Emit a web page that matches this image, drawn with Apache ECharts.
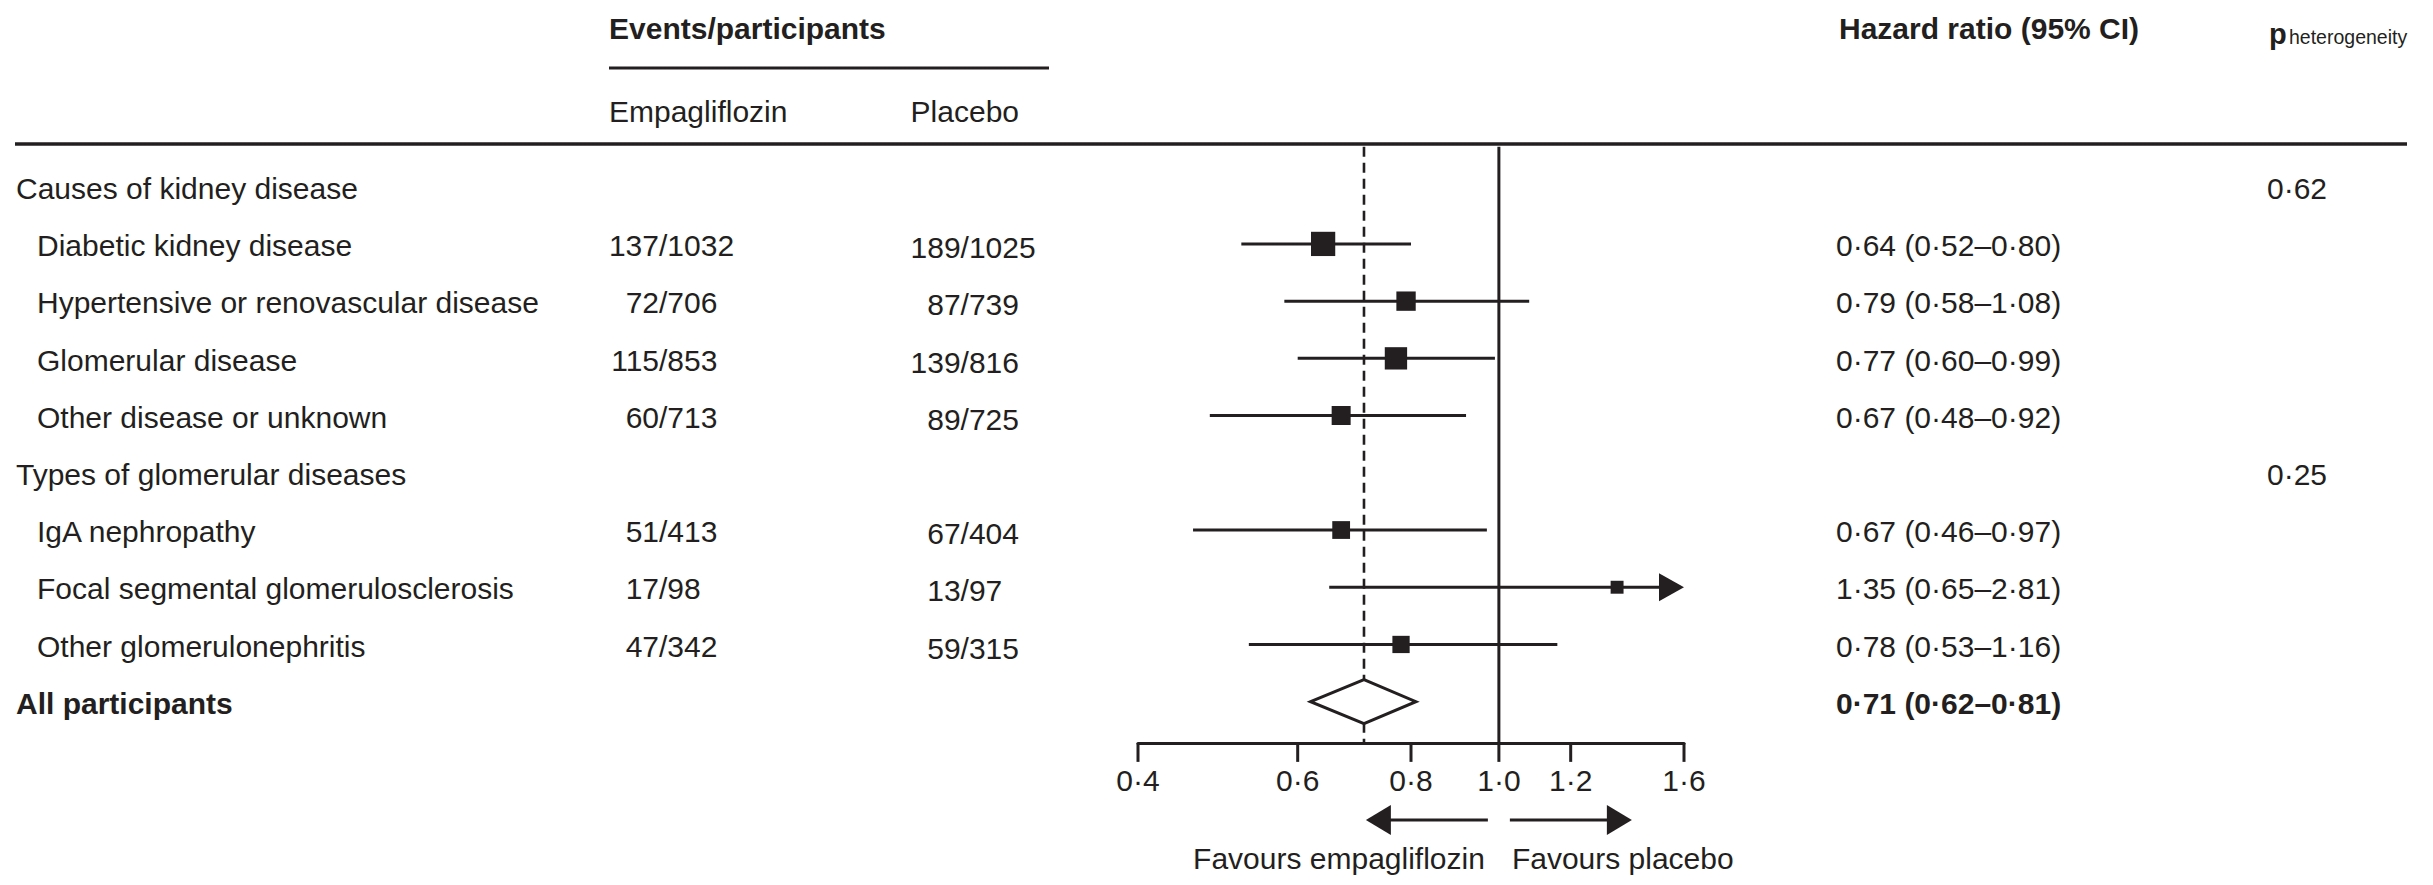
<!DOCTYPE html>
<html>
<head>
<meta charset="utf-8">
<script src="https://cdn.jsdelivr.net/npm/echarts@6/dist/echarts.min.js"></script>
<style>html,body{margin:0;padding:0;background:#fff}#c{width:2433px;height:885px}</style>
</head>
<body>
<div id="c"></div>
<script>
// ---------------- data ----------------
const rowLabels = [
  'Causes of kidney disease',
  'Diabetic kidney disease',
  'Hypertensive or renovascular disease',
  'Glomerular disease',
  'Other disease or unknown',
  'Types of glomerular diseases',
  'IgA nephropathy',
  'Focal segmental glomerulosclerosis',
  'Other glomerulonephritis',
  'All participants'
];
const rowKind = ['group','item','item','item','item','group','item','item','item','overall'];
const empaEvents = [null,137,72,115,60,null,51,17,47,null];
const empaTotal  = [null,1032,706,853,713,null,413,98,342,null];
const placEvents = [null,189,87,139,89,null,67,13,59,null];
const placTotal  = [null,1025,739,816,725,null,404,97,315,null];
const hr     = [null,0.64,0.79,0.77,0.67,null,0.67,1.35,0.78,0.71];
const hrLow  = [null,0.52,0.58,0.60,0.48,null,0.46,0.65,0.53,0.62];
const hrHigh = [null,0.80,1.08,0.99,0.92,null,0.97,2.81,1.16,0.81];
const pHet   = ['0·62',null,null,null,null,'0·25',null,null,null,null];
const xTicks = [0.4,0.6,0.8,1.0,1.2,1.6];

// ---------------- style ----------------
const FONT = '"Liberation Sans", Arial, Helvetica, sans-serif';
const INK = '#231f20';
const FS = 30;
const fmt2 = v => v.toFixed(2).replace('.', '\u00b7');
const fmt1 = v => v.toFixed(1).replace('.', '\u00b7');
const X_MIN = xTicks[0], X_MAX = xTicks[xTicks.length - 1];
const ROW_MIN = -0.7, ROW_MAX = 9.72;
const ROW_PITCH = 57.22, ROW0_Y = 186.7;
const OVERALL = rowKind.indexOf('overall');

function txt(text, x, y, opt) {
  opt = opt || {};
  return {
    type: 'text', silent: true,
    style: {
      text: text, x: x, y: y, fill: INK, fontFamily: FONT,
      fontSize: opt.size || FS, fontWeight: opt.bold ? 'bold' : 'normal',
      align: opt.align || 'left', verticalAlign: 'middle'
    }
  };
}
function seg(x1, y1, x2, y2, w, dash) {
  return { type: 'line', silent: true,
    shape: { x1: x1, y1: y1, x2: x2, y2: y2 },
    style: { stroke: INK, lineWidth: w, lineDash: dash || null, lineCap: 'butt' } };
}

const chart = echarts.init(document.getElementById('c'), null, { renderer: 'svg', width: 2433, height: 885 });

const itemRows = rowKind.map((k, i) => i).filter(i => rowKind[i] === 'item');
const ciData = itemRows.map(i => [hr[i], i, hrLow[i], hrHigh[i], empaEvents[i] + placEvents[i]]);

const option = {
  backgroundColor: '#fff',
  animation: false,
  grid: {
    left: 1138, width: 546,
    top: ROW0_Y + ROW_MIN * ROW_PITCH,
    height: (ROW_MAX - ROW_MIN) * ROW_PITCH,
    containLabel: false, outerBoundsMode: 'none'
  },
  xAxis: {
    type: 'log', logBase: 10, min: X_MIN, max: X_MAX, position: 'bottom',
    axisLine: { show: true, onZero: false, lineStyle: { color: INK, width: 3 } },
    axisTick: { show: false }, axisLabel: { show: false }, splitLine: { show: false }
  },
  yAxis: {
    type: 'value', inverse: true, min: ROW_MIN, max: ROW_MAX, show: false,
    splitLine: { show: false }
  },
  graphic: [
    txt('Events/participants', 609, 28.4, { bold: true }),
    seg(609, 68, 1049, 68, 3),
    txt('Empagliflozin', 609, 111.7),
    txt('Placebo', 910.6, 111.7),
    txt('Hazard ratio (95% CI)', 1839, 28.4, { bold: true }),
    txt('p', 2269, 34.3, { bold: true, size: 29 }),
    txt('heterogeneity', 2289, 37.3, { size: 19.5 }),
    seg(15, 144, 2407, 144, 3.5)
  ],
  series: [
    { // reference lines: null effect (solid) and overall estimate (dashed)
      type: 'custom', clip: false, silent: true, z: 1,
      data: [[1, 0], [hr[OVERALL], 1]],
      encode: { x: 0, y: 1 },
      renderItem: function (params, api) {
        const xv = api.value(0);
        const p0 = api.coord([xv, ROW_MIN]);
        const p1 = api.coord([xv, ROW_MAX]);
        const dashed = params.dataIndex === 1;
        return seg(p0[0], p0[1], p1[0], p1[1], dashed ? 2.6 : 3, dashed ? [10, 6] : null);
      }
    },
    { // confidence intervals and squares
      type: 'custom', clip: false, silent: true, z: 2,
      data: ciData,
      encode: { x: 0, y: 1 },
      renderItem: function (params, api) {
        const row = api.value(1);
        const y = api.coord([1, row])[1];
        const xc = api.coord([api.value(0), row])[0];
        const xlo = api.coord([Math.max(api.value(2), X_MIN), row])[0];
        const hiVal = api.value(3);
        const arrow = hiVal > X_MAX;
        const xhi = api.coord([Math.min(hiVal, X_MAX), row])[0];
        const s = 8 + 0.9 * Math.sqrt(api.value(4));
        const ch = [];
        ch.push(seg(xlo, y, arrow ? xhi - 20 : xhi, y, 3));
        ch.push({ type: 'rect', silent: true,
          shape: { x: xc - s / 2, y: y - s / 2, width: s, height: s },
          style: { fill: INK } });
        if (arrow) {
          ch.push({ type: 'polygon', silent: true,
            shape: { points: [[xhi, y], [xhi - 25, y - 14], [xhi - 25, y + 14]] },
            style: { fill: INK } });
        }
        return { type: 'group', children: ch };
      }
    },
    { // overall diamond
      type: 'custom', clip: false, silent: true, z: 3,
      data: [[hr[OVERALL], OVERALL, hrLow[OVERALL], hrHigh[OVERALL]]],
      encode: { x: 0, y: 1 },
      renderItem: function (params, api) {
        const row = api.value(1);
        const y = api.coord([1, row])[1];
        const xc = api.coord([api.value(0), row])[0];
        const xl = api.coord([api.value(2), row])[0];
        const xr = api.coord([api.value(3), row])[0];
        const h = 22;
        return { type: 'polygon', silent: true,
          shape: { points: [[xl, y], [xc, y - h], [xr, y], [xc, y + h]] },
          style: { fill: '#fff', stroke: INK, lineWidth: 3, lineJoin: 'miter' } };
      }
    },
    { // axis ticks and labels
      type: 'custom', clip: false, silent: true, z: 4,
      data: xTicks.map(v => [v, ROW_MAX]),
      encode: { x: 0, y: 1 },
      renderItem: function (params, api) {
        const p = api.coord([api.value(0), api.value(1)]);
        return { type: 'group', children: [
          seg(p[0], p[1], p[0], p[1] + 19, 3),
          txt(fmt1(api.value(0)), p[0], p[1] + 38, { align: 'center' })
        ] };
      }
    },
    { // favours arrows and captions
      type: 'custom', clip: false, silent: true, z: 4,
      data: [[1, ROW_MAX]],
      encode: { x: 0, y: 1 },
      renderItem: function (params, api) {
        const p = api.coord([api.value(0), api.value(1)]);
        const x1 = p[0];
        const ya = p[1] + 77;
        const yt = p[1] + 116;
        return { type: 'group', children: [
          seg(x1 - 11, ya, x1 - 133 + 22, ya, 3),
          { type: 'polygon', silent: true, shape: { points: [[x1 - 133, ya], [x1 - 108, ya - 15], [x1 - 108, ya + 15]] }, style: { fill: INK } },
          seg(x1 + 11, ya, x1 + 133 - 22, ya, 3),
          { type: 'polygon', silent: true, shape: { points: [[x1 + 133, ya], [x1 + 108, ya - 15], [x1 + 108, ya + 15]] }, style: { fill: INK } },
          txt('Favours empagliflozin', x1 - 14, yt, { align: 'right' }),
          txt('Favours placebo', x1 + 13, yt)
        ] };
      }
    },
    { // table text
      type: 'custom', clip: false, silent: true, z: 5,
      data: rowLabels.map((l, i) => [1, i]),
      encode: { x: 0, y: 1 },
      renderItem: function (params, api) {
        const i = params.dataIndex;
        const y = api.coord([1, api.value(1)])[1] + 1.7;
        const kind = rowKind[i];
        const bold = kind === 'overall';
        const ch = [];
        ch.push(txt(rowLabels[i], kind === 'item' ? 37 : 16, y, { bold: bold }));
        if (empaEvents[i] != null) {
          ch.push(txt(String(empaEvents[i]), 659, y, { align: 'right' }));
          ch.push(txt('/' + empaTotal[i], 659, y));
          ch.push(txt(String(placEvents[i]), 960.6, y + 2, { align: 'right' }));
          ch.push(txt('/' + placTotal[i], 960.6, y + 2));
        }
        if (hr[i] != null) {
          ch.push(txt(fmt2(hr[i]) + ' (' + fmt2(hrLow[i]) + '\u2013' + fmt2(hrHigh[i]) + ')', 1836, y, { bold: bold }));
        }
        if (pHet[i]) ch.push(txt(pHet[i], 2267, y));
        return { type: 'group', children: ch };
      }
    }
  ]
};
chart.setOption(option);
</script>
</body>
</html>
